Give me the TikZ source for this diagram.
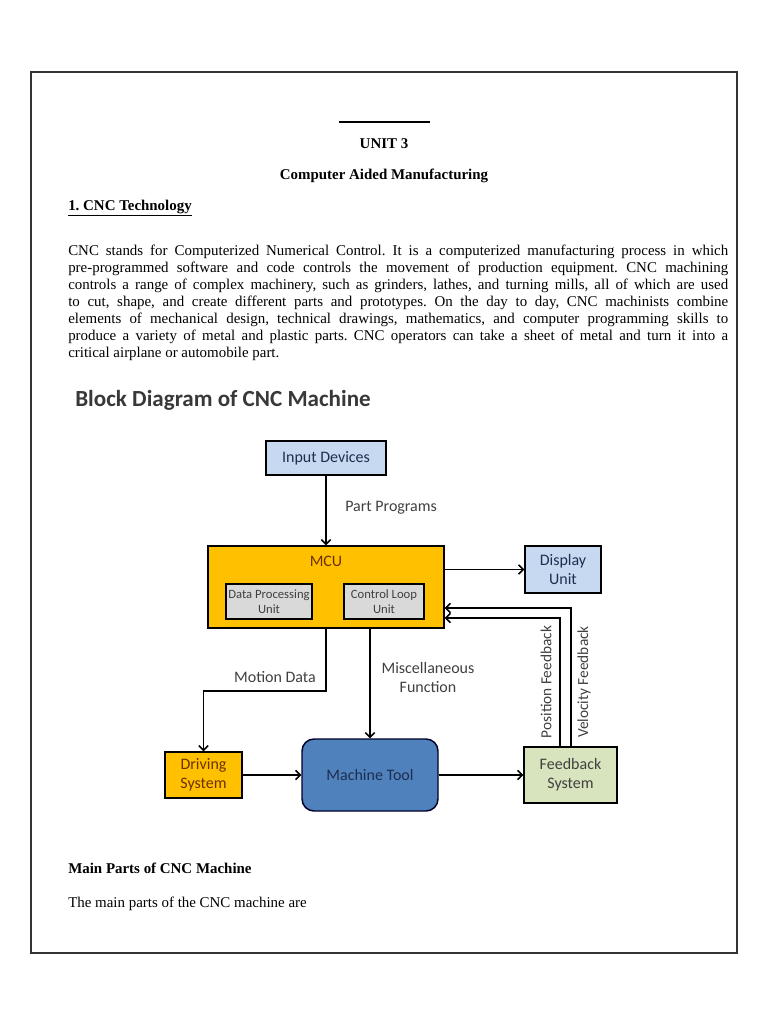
\documentclass[tikz,border=0pt]{standalone}
\usepackage{fontspec}
\setmainfont{Liberation Serif}
\newfontfamily\diafont{Carlito}
\usepackage{tikz}
\usetikzlibrary{positioning, arrows.meta}
\frenchspacing
\definecolor{mcuorange}{HTML}{FFC000}
\definecolor{lightblue}{HTML}{C6D9F1}
\definecolor{unitgray}{HTML}{D9D9D9}
\definecolor{fbgreen}{HTML}{D7E4BD}
\definecolor{toolblue}{HTML}{4F81BD}
\definecolor{labelgray}{HTML}{404040}
\definecolor{brownish}{HTML}{6B3200}
\definecolor{navytext}{HTML}{1F2D4F}
\tikzset{
  blk/.style={draw=black, line width=1.1pt, align=center, inner sep=0pt,
    font=\diafont\fontsize{12pt}{14pt}\selectfont},
  subblk/.style={blk, fill=unitgray, text=labelgray,
    font=\diafont\fontsize{9.5pt}{11.5pt}\selectfont},
  arr/.style={line width=1.1pt, -{Straight Barb[length=3.5pt,width=7pt]}},
  lbl/.style={inner sep=0pt, align=center, text=labelgray,
    font=\diafont\fontsize{12pt}{14pt}\selectfont},
  body/.style={inner sep=0pt, font=\fontsize{11.2pt}{12.75pt}\selectfont}
}

\begin{document}
\begin{tikzpicture}[x=0.75pt, y=-0.75pt]
\useasboundingbox (0,0) rectangle (768,1024);
\draw[line width=1.1pt, black!80] (31,72) rectangle (737,953);

% page text
\draw[line width=1.1pt] (339,122) -- (430,122);
\node[body, font=\fontsize{11.2pt}{12.75pt}\selectfont\bfseries] (unit) at (384,144) {UNIT 3};
\node[body, font=\fontsize{11.2pt}{12.75pt}\selectfont\bfseries] (cam) at (384,176) {Computer Aided Manufacturing};
\node[body, anchor=west, font=\fontsize{11.2pt}{12.75pt}\selectfont\bfseries] (sec) at (68,208) {\underline{1. CNC Technology}};
\node[body, anchor=north west, text width=495pt, align=justify] (para) at (68,244.5) {CNC stands for Computerized Numerical Control. It is a computerized manufacturing process in which\linebreak
pre-programmed software and code controls the movement of production equipment. CNC machining\linebreak
controls a range of complex machinery, such as grinders, lathes, and turning mills, all of which are used\linebreak
to cut, shape, and create different parts and prototypes. On the day to day, CNC machinists combine\linebreak
elements of mechanical design, technical drawings, mathematics, and computer programming skills to\linebreak
produce a variety of metal and plastic parts. CNC operators can take a sheet of metal and turn it into a\linebreak
critical airplane or automobile part.};

% block diagram
\node[inner sep=0pt, anchor=west, text=black!78, font=\diafont\fontsize{17.3pt}{20pt}\selectfont\bfseries] (title) at (75,400) {Block Diagram of CNC Machine};

\node[blk, fill=lightblue, text=navytext, minimum width=90pt, minimum height=25.5pt] (inp) at (326,458) {Input Devices};
\node[blk, fill=mcuorange, minimum width=177pt, minimum height=61.5pt] (mcu) at (326,587) {};
\node[inner sep=0pt, text=brownish, font=\diafont\fontsize{12pt}{14pt}\selectfont] (mcutxt) at (326,561) {MCU};
\node[subblk, minimum width=64.5pt, minimum height=26.25pt] (dpu) at (269,601.5) {Data Processing\\Unit};
\node[subblk, minimum width=60pt, minimum height=26.25pt] (clu) at (384,601.5) {Control Loop\\Unit};
\node[blk, fill=lightblue, text=navytext, minimum width=57pt, minimum height=35.25pt] (disp) at (563,569.5) {Display\\Unit};
\node[blk, fill=mcuorange, text=brownish, minimum width=57.75pt, minimum height=34.5pt] (drv) at (203.5,775) {Driving\\System};
\node[blk, fill=toolblue, text=navytext, draw=black!85!blue, rounded corners=9pt, minimum width=102pt, minimum height=54pt] (mach) at (370,775) {Machine Tool};
\node[blk, fill=fbgreen, text=black!75, minimum width=69.75pt, minimum height=42pt] (fbk) at (570.5,775) {Feedback\\System};

\coordinate (md) at (203.5,691);
\draw[arr] (inp) -- (mcu);
\draw[arr] (mcu.east |- disp.west) -- (disp.west);
\draw[arr] (mcu.south) |- (md) -- (drv.north);
\draw[arr] (mcu.south -| mach.north) -- (mach.north);
\draw[arr] (drv) -- (mach);
\draw[arr] (mach) -- (fbk);
\draw[arr] ([xshift=0.4pt]fbk.north) |- ([yshift=-15.75pt]mcu.east);
\draw[arr] ([xshift=-7.9pt]fbk.north) |- ([yshift=-23.25pt]mcu.east);

\node[lbl, anchor=west] (pp) at (345,508) {Part Programs};
\node[lbl] (mdl) at (275,677) {Motion Data};
\node[lbl] (mfl) at (428,677.5) {Miscellaneous\\Function};
\node[lbl, rotate=90, font=\diafont\fontsize{11.5pt}{14pt}\selectfont] (pfl) at (546,682) {Position Feedback};
\node[lbl, rotate=90, font=\diafont\fontsize{11.5pt}{14pt}\selectfont] (vfl) at (584,682) {Velocity Feedback};

% closing text
\node[body, anchor=west, font=\fontsize{11.2pt}{12.75pt}\selectfont\bfseries] (mp) at (68,868) {Main Parts of CNC Machine};
\node[body, anchor=west] (mpt) at (68,904) {The main parts of the CNC machine are};
\end{tikzpicture}
\end{document}
